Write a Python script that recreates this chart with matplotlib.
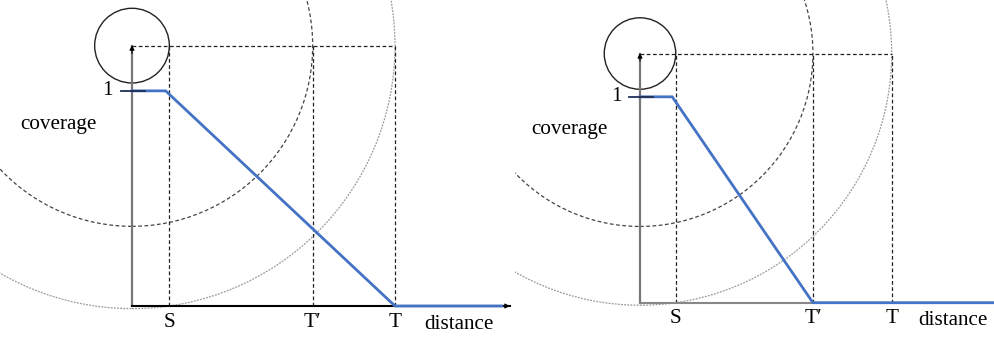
import matplotlib
matplotlib.use("Agg")
import matplotlib.pyplot as plt
from matplotlib.patches import Circle

# ---------------- data ----------------
S = 1.42          # distance of S
T_PRIME = 6.87    # distance of T'
T = 10.0          # distance of T
H = 9.9           # height of the top of the coverage axis / circle centre
COV_SCALE = 8.18  # drawing height of coverage = 1

tick_positions = [S, T_PRIME, T]
tick_labels = ["S", "T\u2032", "T"]
circle_radii = [S, T_PRIME, T]

left_cov_x = [0.0, 1.28, T, 14.06]
left_cov_y = [1, 1, 0, 0]
right_cov_x = [0.0, 1.28, T_PRIME, 14.6]
right_cov_y = [1, 1, 0, 0]

# ---------------- layout ----------------
W, Hpx = 995, 338
fig = plt.figure(figsize=(W / 100, Hpx / 100), dpi=100)
FONT = ["Liberation Serif", "DejaVu Serif"]
FS = 15.2
BLUE = "#4472C4"


def panel(x0, x1, ox, oy, scale, cov_x, cov_y, xaxis_color, xaxis_end, arrow):
    ax = fig.add_axes([x0 / W, 0, (x1 - x0) / W, 1])
    ax.set_xlim((x0 - ox) / scale, (x1 - ox) / scale)
    ax.set_ylim((oy - Hpx) / scale, oy / scale)
    ax.axis("off")

    # circles centred at the top of the coverage axis
    styles = [dict(color="#222222", lw=1.0, ls="-"),
              dict(color="#444444", lw=0.9, ls=(0, (3, 2))),
              dict(color="#9a9a9a", lw=0.9, ls=(0, (1.5, 1)))]
    for r, st in zip(circle_radii, styles):
        ax.add_patch(Circle((0, H), r, fill=False, edgecolor=st["color"],
                            lw=st["lw"], ls=st["ls"], zorder=1))

    # dashed guide lines
    for p in tick_positions:
        ax.plot([p, p], [0, H], color="#222222", lw=0.9, ls=(0, (3, 2)), zorder=2)
    ax.plot([0, T], [H, H], color="#222222", lw=0.9, ls=(0, (3, 2)), zorder=2)

    # y axis (gray) with small arrow head
    ax.plot([0, 0], [0, H], color="#777777", lw=1.6, zorder=3)
    ax.annotate("", xy=(0, H + 0.02), xytext=(0, H - 0.3),
                arrowprops=dict(arrowstyle="-|>", color="black", lw=0.8,
                                mutation_scale=7, shrinkA=0, shrinkB=0), zorder=4)

    # x axis
    ax.plot([0, xaxis_end], [0, 0], color=xaxis_color, lw=1.5, zorder=3)
    if arrow:
        ax.annotate("", xy=(xaxis_end, 0), xytext=(xaxis_end - 0.4, 0),
                    arrowprops=dict(arrowstyle="-|>", color="black", lw=0.8,
                                    mutation_scale=7, shrinkA=0, shrinkB=0), zorder=4)

    # coverage curve
    ax.plot(cov_x, [v * COV_SCALE for v in cov_y], color=BLUE, lw=2.0,
            solid_joinstyle="miter", zorder=5)

    # tick at coverage 1
    ax.plot([-0.42, 0.5], [COV_SCALE, COV_SCALE], color="#1f2f55", lw=1.3, zorder=6)
    ax.text(-0.95, COV_SCALE, "1", family=FONT, fontsize=FS, ha="center", va="center")
    ax.text(-2.8, 6.9, "coverage", family=FONT, fontsize=FS, ha="center", va="center")

    for p, lab in zip(tick_positions, tick_labels):
        ax.text(p, -0.62, lab, family=FONT, fontsize=FS, ha="center", va="center")
    ax.text(12.45, -0.72, "distance", family=FONT, fontsize=FS, ha="center", va="center")
    return ax


panel(0, 515, 132, 306, 26.3, left_cov_x, left_cov_y, "black", 14.37, True)
panel(515, 995, 640, 302.7, 25.17, right_cov_x, right_cov_y, "#888888", 14.6, False)

fig.savefig("out.png", dpi=100)
